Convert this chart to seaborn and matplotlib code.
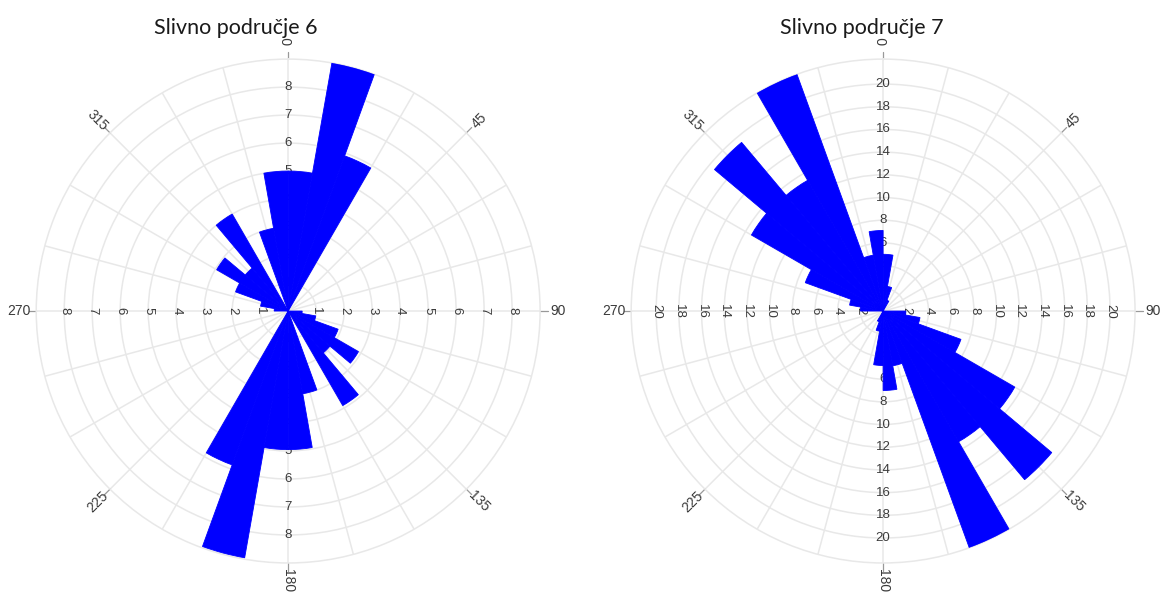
import numpy as np
import matplotlib
matplotlib.use("Agg")
import matplotlib.pyplot as plt
import seaborn as sns

# ------------------------------------------------------------
# Data: rose diagram counts per 10 degree bin (bin start, degrees)
# ------------------------------------------------------------
bin_starts = list(range(0, 360, 10))

counts_sp6 = [5.0, 9.0, 5.9, 0, 0, 0, 0, 0, 0,
              0.5, 1.0, 1.9, 2.9, 1.95, 3.9, 0, 3.0, 4.95,
              4.95, 8.95, 5.85, 0, 0, 0, 0, 0, 0,
              0.5, 1.0, 2.0, 2.95, 2.0, 4.0, 0, 3.0, 5.0]

counts_sp7 = [5.0, 2.2, 1.0, 0, 0, 0, 0, 0, 0,
              2.0, 3.3, 7.3, 13.4, 19.4, 13.3, 22.2, 4.9, 7.0,
              4.8, 1.8, 1.0, 0, 0, 0, 0, 0, 0,
              2.0, 3.0, 7.3, 13.4, 19.4, 13.3, 22.2, 5.0, 7.1]

rings_sp6 = [1, 2, 3, 4, 5, 6, 7, 8]
rings_sp7 = [2, 4, 6, 8, 10, 12, 14, 16, 18, 20]
rmax_sp6 = 9.0
rmax_sp7 = 22.2

titles = ["Slivno područje 6", "Slivno područje 7"]
angle_labels = [0, 45, 90, 135, 180, 225, 270, 315]

sns.set_style("white")
plt.rcParams['font.family'] = ['Liberation Sans', 'DejaVu Sans']

GRID = '#e8e8e8'
TXT = '#3a3a3a'
BLUE = '#0000ff'


def norm_rot(r):
    while r > 90:
        r -= 180
    while r < -90:
        r += 180
    return r


fig = plt.figure(figsize=(11.7, 5.97), dpi=100)

panels = [
    ([0.0308, 0.057, 0.431, 0.844], counts_sp6, rings_sp6, rmax_sp6, 0.2017),
    ([0.5393, 0.057, 0.431, 0.844], counts_sp7, rings_sp7, rmax_sp7, 0.737),
]

for (rect, counts, rings, rmax, tx), title in zip(panels, titles):
    ax = fig.add_axes(rect, projection='polar')
    ax.set_theta_zero_location('N')
    ax.set_theta_direction(-1)

    theta = np.deg2rad(np.array(bin_starts) + 5)
    ax.bar(theta, counts, width=np.deg2rad(10), color=BLUE,
           edgecolor=BLUE, linewidth=0.6, zorder=3)

    ax.set_ylim(0, rmax)
    ax.set_xticks(np.deg2rad(np.arange(0, 360, 15)))
    ax.set_xticklabels([])
    ax.set_yticks(rings)
    ax.set_yticklabels([])
    ax.set_axisbelow(True)
    ax.grid(True, color=GRID, linewidth=1.1)
    ax.spines['polar'].set_color(GRID)
    ax.spines['polar'].set_linewidth(1.1)
    ax.tick_params(length=0)

    # radial labels along the four main axes
    for bearing in [0, 90, 180, 270]:
        rot = norm_rot(-bearing)
        for r in rings:
            ax.text(np.deg2rad(bearing), r, str(r), rotation=rot,
                    ha='center', va='center', fontsize=9.5, color=TXT,
                    zorder=2)

    # angle labels with small ticks outside the outer ring
    for a in angle_labels:
        th = np.deg2rad(a)
        ax.plot([th, th], [rmax, rmax * 1.03], color='#999999',
                linewidth=0.9, clip_on=False, zorder=2)
        ax.text(th, rmax * 1.07, str(a), rotation=norm_rot(90 - a),
                ha='center', va='center', fontsize=10, color=TXT,
                clip_on=False)

    fig.text(tx, 0.953, title, ha='center', va='center', fontsize=15.5,
             color='#1a1a1a', family=['Lato', 'DejaVu Sans'])

fig.savefig("out.png", dpi=100, facecolor='white')
plt.close(fig)
